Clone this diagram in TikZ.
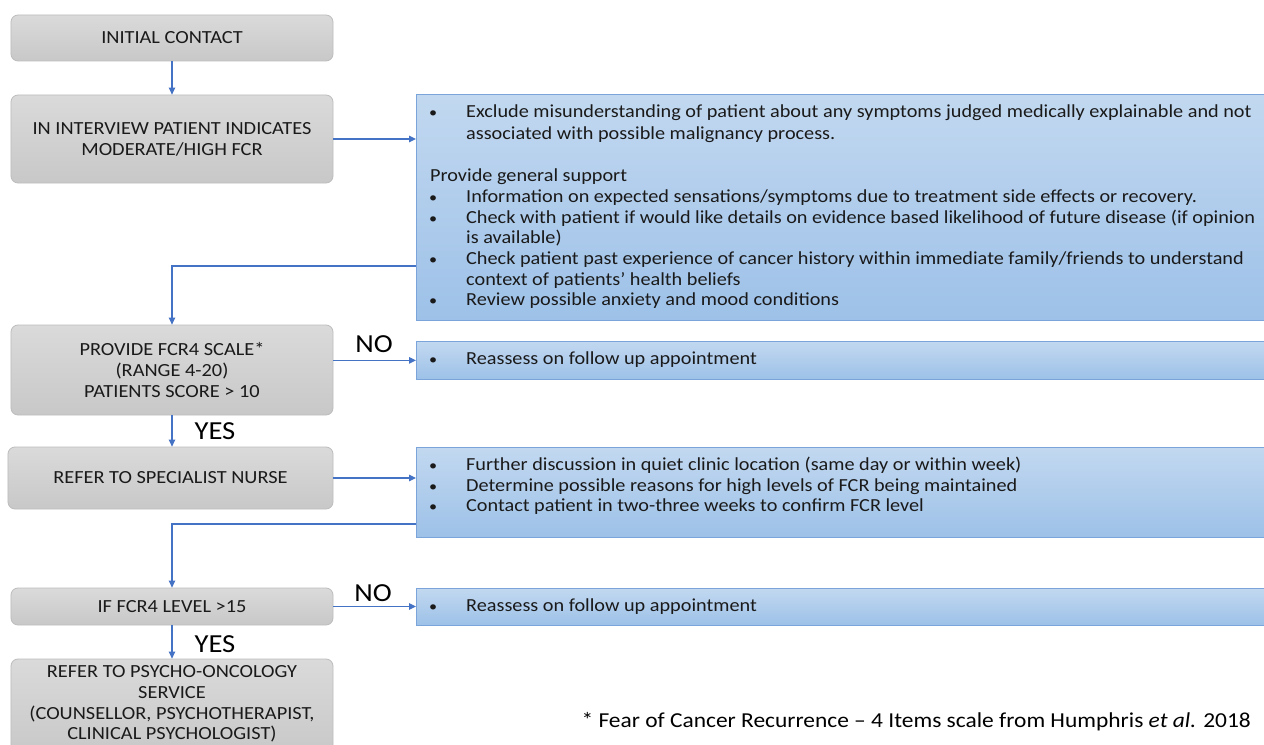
\documentclass[tikz,border=0pt]{standalone}
\usepackage{fontspec}
\setmainfont{Carlito}[FakeStretch=1.1]
\usetikzlibrary{arrows.meta}
\definecolor{arrc}{HTML}{4472C4}
\definecolor{btop}{HTML}{C2D8F0}
\definecolor{bbot}{HTML}{9DC1E8}
\definecolor{bbord}{HTML}{7BA5DA}
\definecolor{gtop}{HTML}{DADADA}
\definecolor{gbot}{HTML}{C8C8C8}
\definecolor{gbord}{HTML}{BDBDBD}
\definecolor{txt}{HTML}{1A1A1A}
\newcommand{\blueitem}[3]{\node[btxt] (#1b) at (429,#2) {\scalebox{0.8}{•}}; \node[btxt] (#1) at (466,#2) {#3};}
\begin{document}
\begin{tikzpicture}[x=1bp,y=-1bp,
  gbox/.style={draw=gbord, line width=0.8bp, rounded corners=7bp, top color=gtop, bottom color=gbot,
     minimum width=322bp, align=center, inner sep=0pt, text=txt,
     font=\fontsize{18.5bp}{20.8bp}\selectfont},
  bbox/.style={draw=bbord, line width=0.8bp, top color=btop, bottom color=bbot, minimum width=852bp, anchor=north west, inner sep=0pt},
  btxt/.style={anchor=base west, inner sep=0pt, text=txt, font=\fontsize{18.4bp}{21bp}\selectfont},
  lbl/.style={inner sep=0pt, text=black, font=\fontsize{26bp}{26bp}\selectfont},
  arr/.style={draw=arrc, line width=1.1bp, -{Triangle[length=7bp,width=6.5bp]}}]
\useasboundingbox (0,0) rectangle (1264,745);
\fill[white] (0,0) rectangle (1264,745);
% gray boxes
\node[gbox, minimum height=46bp] (g1) at (172,38) {INITIAL CONTACT};
\node[gbox, minimum height=88bp] (g2) at (172,139) {IN INTERVIEW PATIENT INDICATES\\MODERATE/HIGH FCR};
\node[gbox, minimum height=90bp] (g3) at (172,370) {PROVIDE FCR4 SCALE*\\(RANGE 4-20)\\PATIENTS SCORE {>} 10};
\node[gbox, minimum height=62bp, minimum width=325bp] (g4) at (170.5,478) {REFER TO SPECIALIST NURSE};
\node[gbox, minimum height=37bp] (g5) at (172,606.5) {IF FCR4 LEVEL {>}15};
\node[gbox, minimum height=96bp] (g6) at (172,707) {};
\node[inner sep=0pt, align=center, text=txt, font=\fontsize{18.5bp}{20.8bp}\selectfont] (g6t) at (172,704)
  {REFER TO PSYCHO-ONCOLOGY\\SERVICE\\(COUNSELLOR, PSYCHOTHERAPIST,\\CLINICAL PSYCHOLOGIST)};
% blue boxes
\node[bbox, minimum height=226bp] (b1) at (416,94) {};
\node[bbox, minimum height=38bp] (b2) at (416,341) {};
\node[bbox, minimum height=90bp] (b3) at (416,447) {};
\node[bbox, minimum height=37bp] (b4) at (416,588) {};
% blue texts
\blueitem{t1}{118}{Exclude misunderstanding of patient about any symptoms judged medically explainable and not}
\node[btxt] (t1c) at (466,139) {associated with possible malignancy process.};
\node[btxt] (t2) at (430,181) {Provide general support};
\blueitem{t3}{202}{Information on expected sensations/symptoms due to treatment side effects or recovery.}
\blueitem{t4}{223}{Check with patient if would like details on evidence based likelihood of future disease (if opinion}
\node[btxt] (t4c) at (466,243) {is available)};
\blueitem{t5}{264}{Check patient past experience of cancer history within immediate family/friends to understand}
\node[btxt] (t5c) at (466,285) {context of patients’ health beliefs};
\blueitem{t6}{305}{Review possible anxiety and mood conditions}
\blueitem{r1}{364}{Reassess on follow up appointment}
\blueitem{s1}{470}{Further discussion in quiet clinic location (same day or within week)}
\blueitem{s2}{491}{Determine possible reasons for high levels of FCR being maintained}
\blueitem{s3}{511}{Contact patient in two-three weeks to confirm FCR level}
\blueitem{r2}{611}{Reassess on follow up appointment}
% connectors
\coordinate (b1out) at (416,266);
\coordinate (b3out) at (416,524);
\draw[arr] (g1.south) -- (g2.north);
\draw[arr] (g2.east) -- (b1.west |- g2.east);
\draw[arr] (b1out) -| (g3.north);
\draw[arr] (g3.east |- b2.west) -- (b2.west);
\draw[arr] (g3.south) -- (g4.north -| g3.south);
\draw[arr] (g4.east) -- (b3.west |- g4.east);
\draw[arr] (b3out) -| (g5.north);
\draw[arr] (g5.east) -- (b4.west |- g5.east);
\draw[arr] (g5.south) -- (g6.north);
% labels
\node[lbl] (no1) at (374,344) {NO};
\node[lbl] (yes1) at (215,431) {YES};
\node[lbl] (no2) at (373,593) {NO};
\node[lbl] (yes2) at (215,644) {YES};
\node[anchor=base east, inner sep=0pt, text=black, font=\fontsize{21.3bp}{22bp}\selectfont] (fn) at (1251,727)
  {* Fear of Cancer Recurrence -- 4 Items scale from Humphris \textit{et al.} 2018};
\end{tikzpicture}
\end{document}
